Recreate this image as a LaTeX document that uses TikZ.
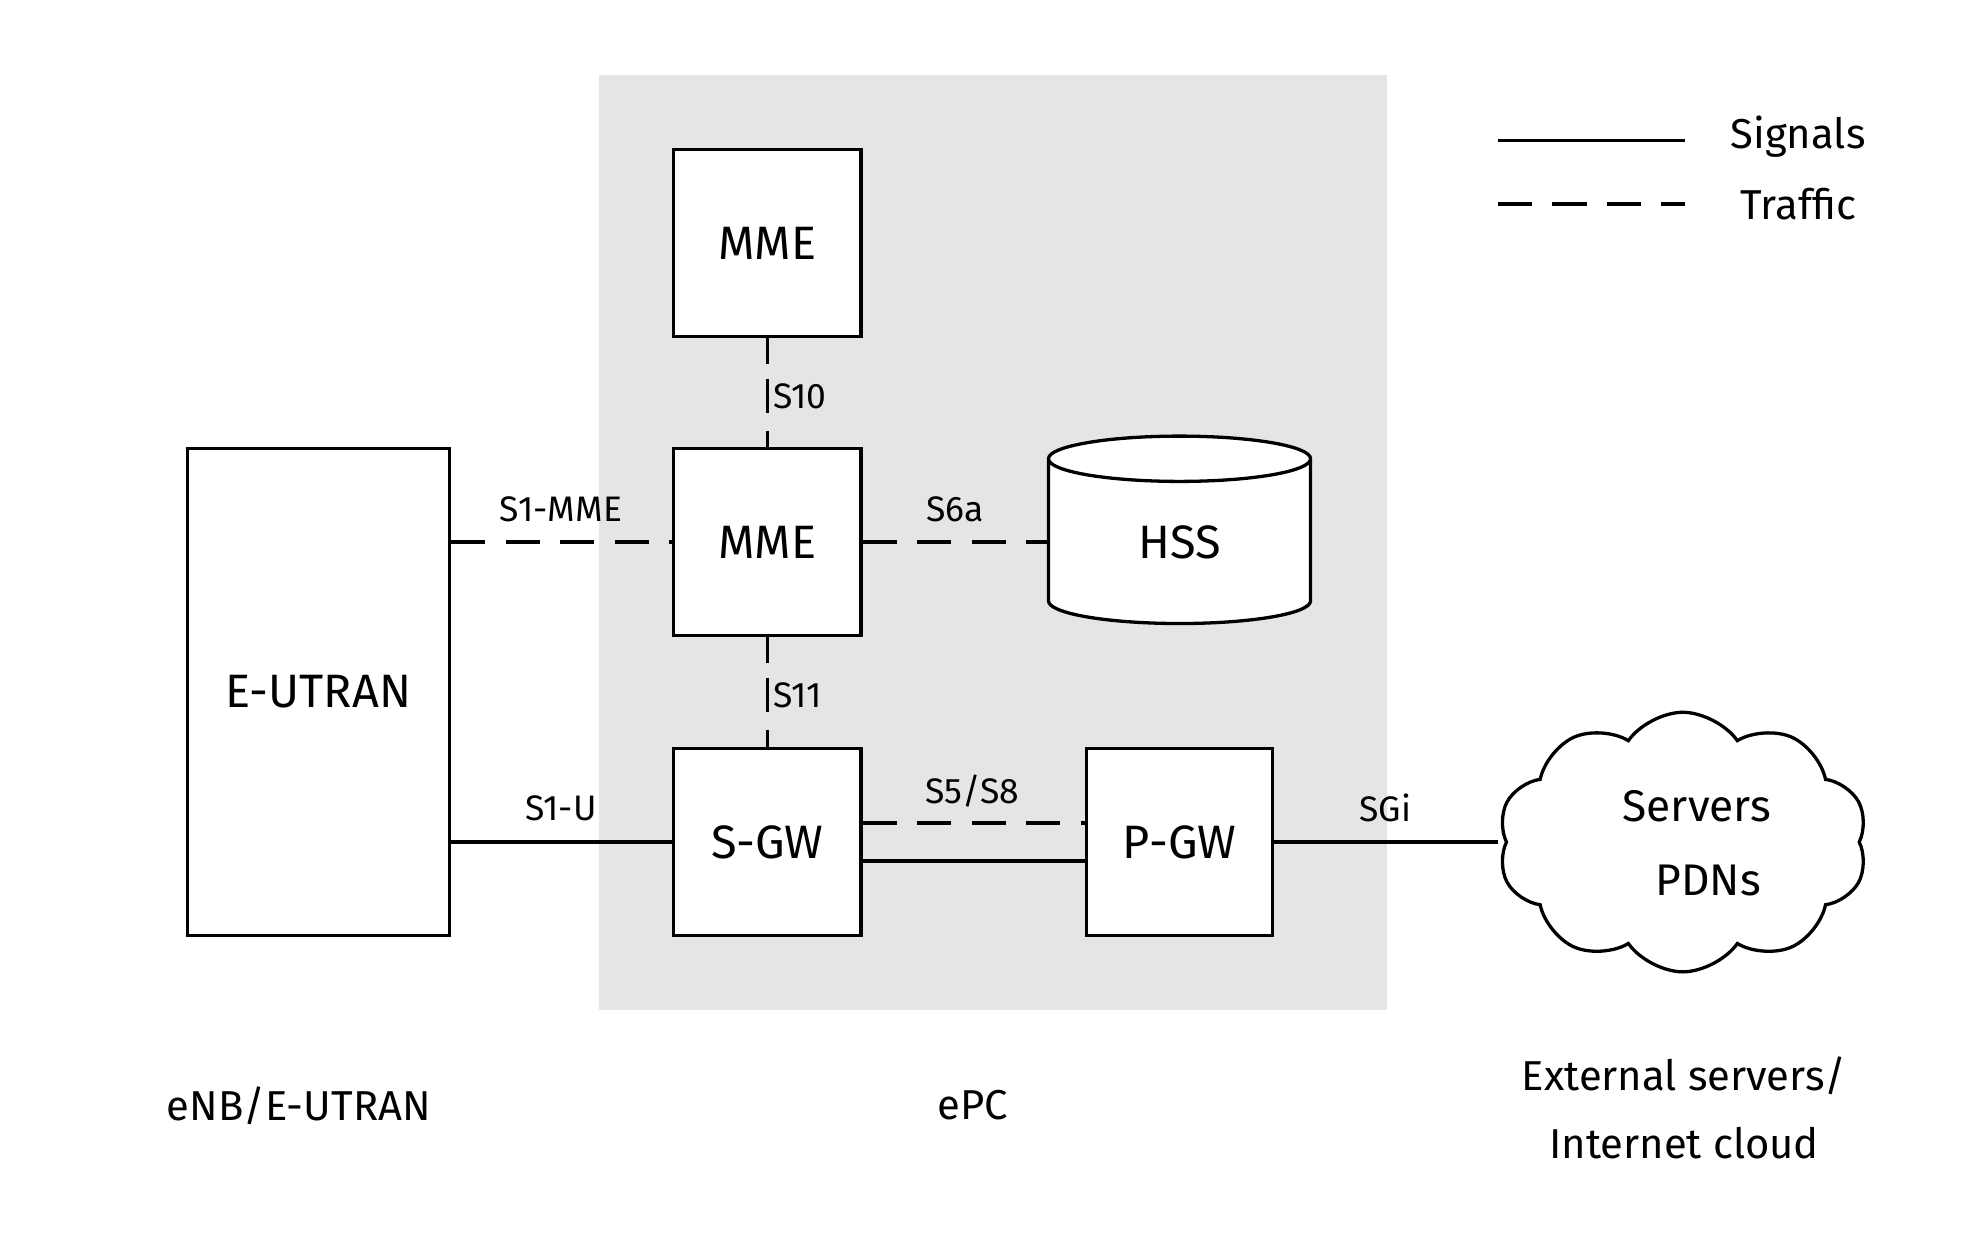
\documentclass[tikz,border=0pt]{standalone}
\usepackage{fontspec}
\setmainfont{Fira Sans}
\usetikzlibrary{shapes.geometric,shapes.symbols}
\begin{document}
\begin{tikzpicture}[x=1pt,y=-1pt,line width=2.6pt,
  box/.style={draw,fill=white,inner sep=0pt},
  big/.style={font=\fontsize{37}{40}\selectfont},
  lab/.style={font=\fontsize{28}{30}\selectfont},
  ttl/.style={font=\fontsize{33}{44}\selectfont,align=center},
  traffic/.style={dash pattern=on 27pt off 16pt}]
\useasboundingbox (0,0) rectangle (1570,994);
\fill[gray!20] (473,59) rectangle (1095,798);
\node[box,big,minimum width=148,minimum height=148] (mme1) at (606,192) {MME};
\node[box,big,minimum width=148,minimum height=148] (mme2) at (606,428) {MME};
\node[box,big,minimum width=207,minimum height=385] (eu) at (251.5,546.5) {E-UTRAN};
\node[box,big,minimum width=148,minimum height=148] (sgw) at (606,665) {S-GW};
\node[box,big,minimum width=147,minimum height=148] (pgw) at (931.5,665) {P-GW};
\node[draw,fill=white,cylinder,shape border rotate=90,aspect=0.55,minimum width=207,minimum height=148,big,inner sep=0pt] (hss) at (931.5,428) {\raisebox{-16pt}{HSS}};
\node[draw,fill=white,cloud,cloud puffs=10,cloud puff arc=110,aspect=1.4,minimum width=292,minimum height=205,inner sep=0pt] (cl) at (1329,665) {};
\node[ttl,font=\fontsize{35}{58}\selectfont] (cltxt) at (1340,666) {Servers\\\hspace{18pt}PDNs};
\draw[dash pattern=on 20pt off 12pt on 27pt off 14pt on 20pt] (mme1.south) -- (mme2.north);
\draw[traffic] (eu.east|-mme2.west) -- (mme2.west);
\draw[traffic] (mme2.east) -- (hss.west|-mme2.east);
\draw[dash pattern=on 20pt off 12pt on 27pt off 14pt on 20pt] (mme2.south) -- (sgw.north);
\draw (eu.east|-sgw.west) -- (sgw.west);
\draw[traffic] ([yshift=15pt]sgw.east) -- ([yshift=15pt]pgw.west);
\draw ([yshift=-15pt]sgw.east) -- ([yshift=-15pt]pgw.west);
\coordinate (clw) at (1183,665);
\draw (pgw.east) -- (clw);
\node[lab,anchor=west] (l10) at (606,313) {S10};
\node[lab,anchor=west] (l11) at (606,549) {S11};
\node[lab] (l1m) at (443,402) {S1-MME};
\node[lab] (l6a) at (754,402) {S6a};
\node[lab] (l1u) at (443,638) {S1-U};
\node[lab] (l58) at (768,625) {S5/S8};
\node[lab] (lsg) at (1094,638) {SGi};
\coordinate (g1a) at (1183,111); \coordinate (g1b) at (1331,111);
\coordinate (g2a) at (1183,161); \coordinate (g2b) at (1331,161);
\draw (g1a) -- (g1b);
\draw[traffic] (g2a) -- (g2b);
\node[ttl] (ls) at (1420,108) {Signals};
\node[ttl] (lt) at (1420,161) {Traffic};
\node[ttl] (b1) at (236,873) {eNB/E-UTRAN};
\node[ttl] (b2) at (768,873) {ePC};
\node[ttl,font=\fontsize{33}{54}\selectfont] (b3) at (1330,875) {External servers/\\Internet cloud};
\end{tikzpicture}
\end{document}
